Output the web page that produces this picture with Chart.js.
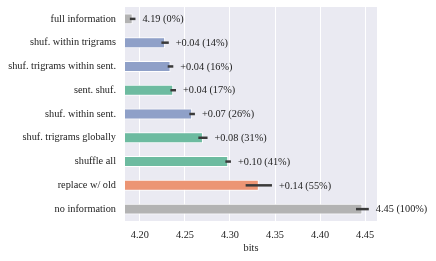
<!DOCTYPE html>
<html>
<head>
<meta charset="utf-8">
<script src="https://cdn.jsdelivr.net/npm/chart.js@4/dist/chart.umd.min.js"></script>
<style>
  html, body { margin: 0; padding: 0; background: #fff; }
  #wrap { width: 436px; height: 261px; }
</style>
</head>
<body>
<div id="wrap"><canvas id="grafico"></canvas></div>
<script>
// data
let categorias = ["full information", "shuf. within trigrams", "shuf. trigrams within sent.", "sent. shuf.",
    "shuf. within sent.", "shuf. trigrams globally", "shuffle all", "replace w/ old", "no information"]
let bits = [4.192, 4.228, 4.234, 4.237, 4.258, 4.270, 4.298, 4.332, 4.447]
let errores = [0.002, 0.003, 0.002, 0.002, 0.002, 0.004, 0.002, 0.0135, 0.006]
let etiquetas = ["4.19 (0%)", "+0.04 (14%)", "+0.04 (16%)", "+0.04 (17%)", "+0.07 (26%)",
    "+0.08 (31%)", "+0.10 (41%)", "+0.14 (55%)", "4.45 (100%)"]
let colores = ["#b3b3b3", "#8fa0c8", "#8fa0c8", "#6dbba0", "#8fa0c8", "#6dbba0", "#6dbba0", "#ec9574", "#b3b3b3"]
let ticksX = [4.20, 4.25, 4.30, 4.35, 4.40, 4.45]

const fuente = "'Liberation Serif', 'DejaVu Serif', serif"
const tam = 10.3

// fondo gris del area del grafico
const fondo = {
    id: 'fondo',
    beforeDraw(chart) {
        const { ctx, chartArea: a } = chart
        ctx.save()
        ctx.fillStyle = '#eaeaf2'
        ctx.fillRect(a.left, a.top, a.right - a.left, a.bottom - a.top)
        ctx.restore()
    }
}

// barras de error y etiquetas de texto
const errorYTexto = {
    id: 'errorYTexto',
    afterDatasetsDraw(chart) {
        const { ctx } = chart
        const x = chart.scales.x
        const y = chart.scales.y
        ctx.save()
        for (let i = 0; i < bits.length; i++) {
            const yc = y.getPixelForValue(i)
            const x0 = x.getPixelForValue(bits[i] - errores[i])
            const x1 = x.getPixelForValue(bits[i] + errores[i])
            ctx.strokeStyle = '#3a3a3a'
            ctx.lineWidth = 2.5
            ctx.beginPath()
            ctx.moveTo(x0 - 1, yc)
            ctx.lineTo(x1 + 1, yc)
            ctx.stroke()
            ctx.fillStyle = '#222'
            ctx.font = tam + "px " + fuente
            ctx.textAlign = 'left'
            ctx.textBaseline = 'middle'
            ctx.fillText(etiquetas[i], x1 + 8, yc + 0.5)
        }
        ctx.restore()
    }
}

let grafico = new Chart(document.getElementById("grafico"), {
    type: 'bar',
    data: {
        labels: categorias,
        datasets: [{
            data: bits,
            backgroundColor: colores,
            borderColor: '#ffffff',
            borderWidth: 1,
            borderSkipped: false,
            barPercentage: 0.46,
            categoryPercentage: 1.0
        }]
    },
    options: {
        indexAxis: 'y',
        responsive: true,
        maintainAspectRatio: false,
        animation: false,
        layout: { padding: { top: 7, right: 59, left: 0, bottom: 0 } },
        plugins: {
            legend: { display: false },
            tooltip: { enabled: false }
        },
        scales: {
            x: {
                min: 4.1835,
                max: 4.4632,
                afterBuildTicks(scale) {
                    scale.ticks = ticksX.map(v => ({ value: v }))
                },
                afterFit(scale) {
                    scale.height = 40
                    scale.paddingLeft = 0
                    scale.paddingRight = 0
                },
                grid: { color: '#ffffff', lineWidth: 1, drawTicks: false },
                border: { display: false },
                ticks: {
                    padding: 8,
                    color: '#222',
                    font: { family: fuente, size: tam },
                    callback: v => Number(v).toFixed(2)
                },
                title: {
                    display: true,
                    text: 'bits',
                    color: '#222',
                    padding: { top: 0, bottom: 7 },
                    font: { family: fuente, size: tam }
                }
            },
            y: {
                afterFit(scale) {
                    scale.width = 125
                    scale.paddingTop = 0
                    scale.paddingBottom = 0
                },
                grid: { display: false, drawTicks: false },
                border: { display: false },
                ticks: {
                    padding: 9,
                    color: '#222',
                    font: { family: fuente, size: tam }
                }
            }
        }
    },
    plugins: [fondo, errorYTexto]
})
</script>
</body>
</html>
